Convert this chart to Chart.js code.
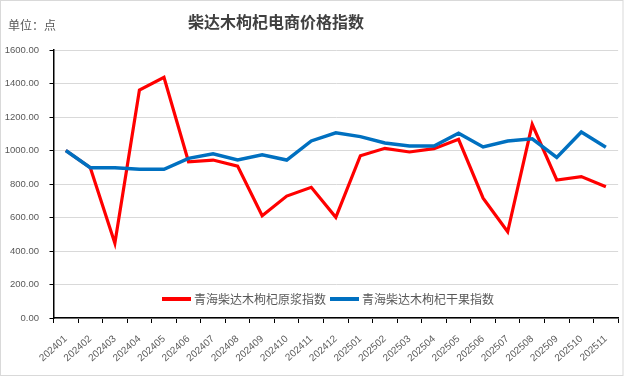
<!DOCTYPE html>
<html>
<head>
<meta charset="utf-8">
<script src="https://cdn.jsdelivr.net/npm/chart.js@4/dist/chart.umd.min.js"></script>
<style>
html,body{margin:0;padding:0;background:#fff;}
#wrap{width:624px;height:376px;position:relative;}
</style>
</head>
<body>
<div id="wrap"><canvas id="c" width="624" height="376"></canvas></div>
<script>
const categories = ['202401','202402','202403','202404','202405','202406','202407','202408','202409','202410','202411','202412','202501','202502','202503','202504','202505','202506','202507','202508','202509','202510','202511'];
const seriesNames = ['青海柴达木枸杞原浆指数','青海柴达木枸杞干果指数'];
const pulpIndex = [1000,897,446,1361,1437,933,943,907,611,728,780,601,969,1013,991,1011,1067,715,515,1156,824,844,784];
const driedIndex = [1000,897,897,888,888,953,981,943,975,943,1057,1106,1083,1045,1027,1027,1103,1021,1057,1070,959,1110,1019];
const yTicks = [0,200,400,600,800,1000,1200,1400,1600];
const titleText = '柴达木枸杞电商价格指数';
const unitText = '单位：点';
const colors = ['#ff0000','#0070c0'];

const decor = {
  id:'decor',
  beforeDraw(chart){
    const ctx = chart.ctx;
    ctx.save();
    ctx.fillStyle = '#fff';
    ctx.fillRect(0,0,chart.width,chart.height);
    ctx.restore();
  },
  afterDraw(chart){
    const ctx = chart.ctx;
    ctx.save();
    ctx.strokeStyle = '#d9d9d9';
    ctx.lineWidth = 1;
    ctx.strokeRect(0.5,0.5,chart.width-1.5,chart.height-1);
    ctx.fillStyle = '#404040';
    ctx.font = 'bold 16px "Noto Sans CJK SC"';
    ctx.textAlign = 'center';
    ctx.textBaseline = 'middle';
    ctx.fillText(titleText, 276, 22);
    ctx.fillStyle = '#595959';
    ctx.font = '12px "Noto Sans CJK SC"';
    ctx.textAlign = 'left';
    ctx.fillText(unitText, 8, 25);
    // legend
    const ly = 299;
    let x = 162;
    ctx.font = '12px "Noto Sans CJK SC"';
    chart.data.datasets.forEach((ds,i)=>{
      ctx.strokeStyle = ds.borderColor;
      ctx.lineWidth = 4;
      ctx.beginPath();
      ctx.moveTo(x, ly);
      ctx.lineTo(x+29, ly);
      ctx.stroke();
      ctx.fillStyle = '#595959';
      ctx.fillText(ds.label, x+32, ly);
      x = x + 32 + ctx.measureText(ds.label).width + 4;
    });
    ctx.restore();
  }
};

new Chart(document.getElementById('c'), {
  type:'line',
  data:{
    labels: categories,
    datasets:[
      {label: seriesNames[0], data: pulpIndex, borderColor: colors[0], backgroundColor: colors[0], borderWidth:3.2, pointRadius:0, tension:0, order:2},
      {label: seriesNames[1], data: driedIndex, borderColor: colors[1], backgroundColor: colors[1], borderWidth:3.5, pointRadius:0, tension:0, order:1}
    ]
  },
  options:{
    responsive:false,
    animation:false,
    events:[],
    layout:{padding:{top:50,left:0,right:5,bottom:0}},
    plugins:{legend:{display:false}, title:{display:false}, tooltip:{enabled:false}},
    scales:{
      x:{
        offset:true,
        grid:{display:true, drawOnChartArea:false, tickLength:5, color:'#000', tickColor:'#000', offset:true},
        border:{display:true, color:'#000', width:1.5},
        ticks:{autoSkip:false, maxRotation:42, minRotation:42, color:'#595959', padding:10, font:{family:'"Liberation Sans"', size:10}},
        afterFit(s){ s.height = 58; }
      },
      y:{
        min:0, max:1600,
        afterBuildTicks(s){ s.ticks = yTicks.map(v=>({value:v})); },
        grid:{color:'#d9d9d9', tickColor:'#000', tickLength:4},
        border:{display:true, color:'#000', width:1.5},
        ticks:{color:'#595959', padding:10.5, font:{family:'"Liberation Sans"', size:9.5}, callback:(v)=>Number(v).toFixed(2)},
        afterFit(s){ s.width = 53.5; }
      }
    }
  },
  plugins:[decor]
});
</script>
</body>
</html>
